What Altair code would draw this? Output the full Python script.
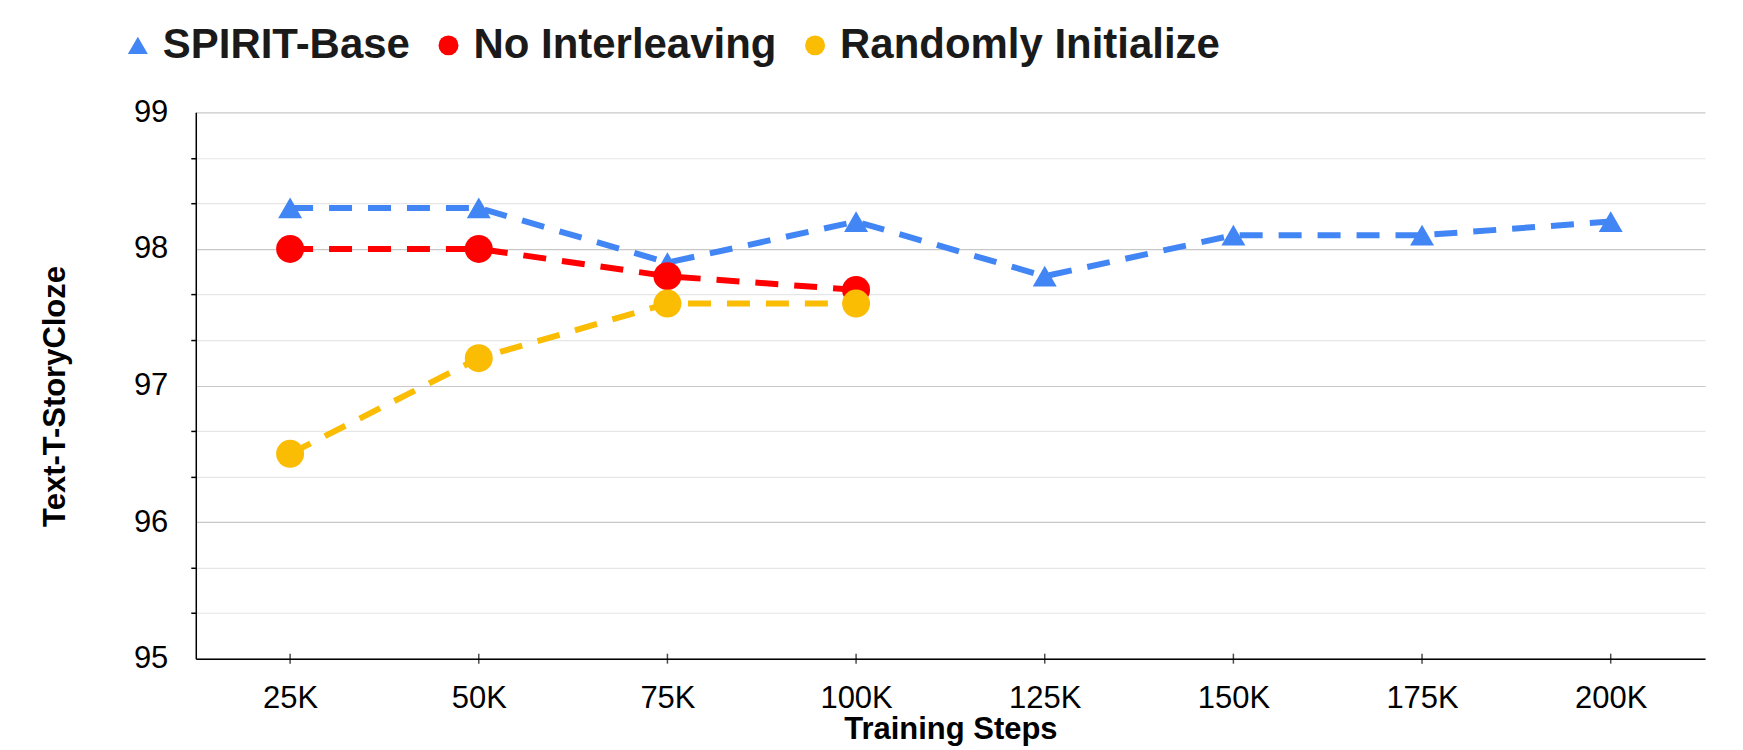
import altair as alt
import pandas as pd

steps = ["25K", "50K", "75K", "100K", "125K", "150K", "175K", "200K"]
series_names = ["SPIRIT-Base", "No Interleaving", "Randomly Initialize"]
spirit_base = [98.3, 98.3, 97.9, 98.2, 97.8, 98.1, 98.1, 98.2]
no_interleaving = [98.0, 98.0, 97.8, 97.7]
randomly_initialize = [96.5, 97.2, 97.6, 97.6]
series_colors = ["#4285F4", "#FF0000", "#FBBC04"]
series_shapes = ["triangle-up", "circle", "circle"]
y_ticks = [95, 95.3333, 95.6667, 96, 96.3333, 96.6667, 97, 97.3333, 97.6667,
           98, 98.3333, 98.6667, 99]

rows = []
for name, vals in zip(series_names, [spirit_base, no_interleaving, randomly_initialize]):
    for i, (s, v) in enumerate(zip(steps, vals)):
        rows.append({"step": s, "series": name, "value": v, "idx": i})
df = pd.DataFrame(rows)
df_ticks = pd.DataFrame({"step": steps, "base": [95] * len(steps)})

FONT = "Liberation Sans"
is_major = "abs(datum.value - round(datum.value)) < 0.01"

x_scale = alt.Scale(type="point", domain=steps, padding=0.5)
y_scale = alt.Scale(domain=[95, 99], nice=False, zero=False)

x_axis = alt.Axis(
    title="Training Steps", labelFont=FONT, labelFontSize=31, labelColor="black",
    labelAngle=0, labelPadding=25, ticks=False, tickSize=0,
    domainColor="black", domainWidth=1.5, grid=False,
    titleFont=FONT, titleFontSize=31, titleFontWeight="bold", titleColor="black",
    titleY=80, titleBaseline="alphabetic",
)
y_axis = alt.Axis(
    title="Text-T-StoryCloze", values=y_ticks,
    labelExpr=f"{is_major} ? format(round(datum.value), 'd') : ''",
    labelFont=FONT, labelFontSize=31, labelColor="black", labelPadding=23,
    tickSize=5, tickWidth=1.5,
    tickColor={"condition": {"test": is_major, "value": "rgba(0,0,0,0)"}, "value": "black"},
    domainColor="black", domainWidth=1.5,
    grid=True, gridWidth=1.2,
    gridColor={"condition": {"test": is_major, "value": "#c8c8c8"}, "value": "#e6e6e6"},
    titleFont=FONT, titleFontSize=31, titleFontWeight="bold", titleColor="black",
    titleAngle=270, titleX=-131, titleY=284, titleAlign="center", titleBaseline="alphabetic",
)

lines = alt.Chart(df).mark_line(strokeWidth=6, strokeDash=[23, 16]).encode(
    x=alt.X("step:N", scale=x_scale, axis=x_axis, sort=steps),
    y=alt.Y("value:Q", scale=y_scale, axis=y_axis),
    stroke=alt.Stroke("series:N", scale=alt.Scale(domain=series_names, range=series_colors), legend=None),
    order=alt.Order("idx:Q"),
)

points = alt.Chart(df).mark_point(filled=True, opacity=1).encode(
    x=alt.X("step:N", scale=x_scale, sort=steps),
    y=alt.Y("value:Q", scale=y_scale),
    color=alt.Color("series:N", scale=alt.Scale(domain=series_names, range=series_colors),
                    legend=alt.Legend(title=None)),
    shape=alt.Shape("series:N", scale=alt.Scale(domain=series_names, range=series_shapes),
                    legend=alt.Legend(title=None)),
    size=alt.condition(alt.datum.series == "SPIRIT-Base", alt.value(576), alt.value(784)),
)

ticks = alt.Chart(df_ticks).mark_tick(orient="vertical", size=10, thickness=1.5, color="black").encode(
    x=alt.X("step:N", scale=x_scale, sort=steps),
    y=alt.Y("base:Q", scale=y_scale),
)

chart = alt.layer(lines, points, ticks).resolve_scale(
    color="independent", shape="independent"
).properties(
    width=1511, height=547,
    padding={"left": 188, "top": 104, "right": 30, "bottom": 90},
    autosize=alt.AutoSizeParams(type="none"),
).configure_view(stroke=None).configure_legend(
    orient="none", legendX=-79, legendY=-88, direction="horizontal",
    labelFont=FONT, labelFontSize=42, labelFontWeight="bold", labelColor="#1a1a1a",
    labelLimit=2000, symbolSize=400, symbolOpacity=1, symbolStrokeWidth=0, labelOffset=4,
    columnPadding=17, padding=0,
)

chart.save("out.html", embed_options={"renderer": "svg", "actions": False})
